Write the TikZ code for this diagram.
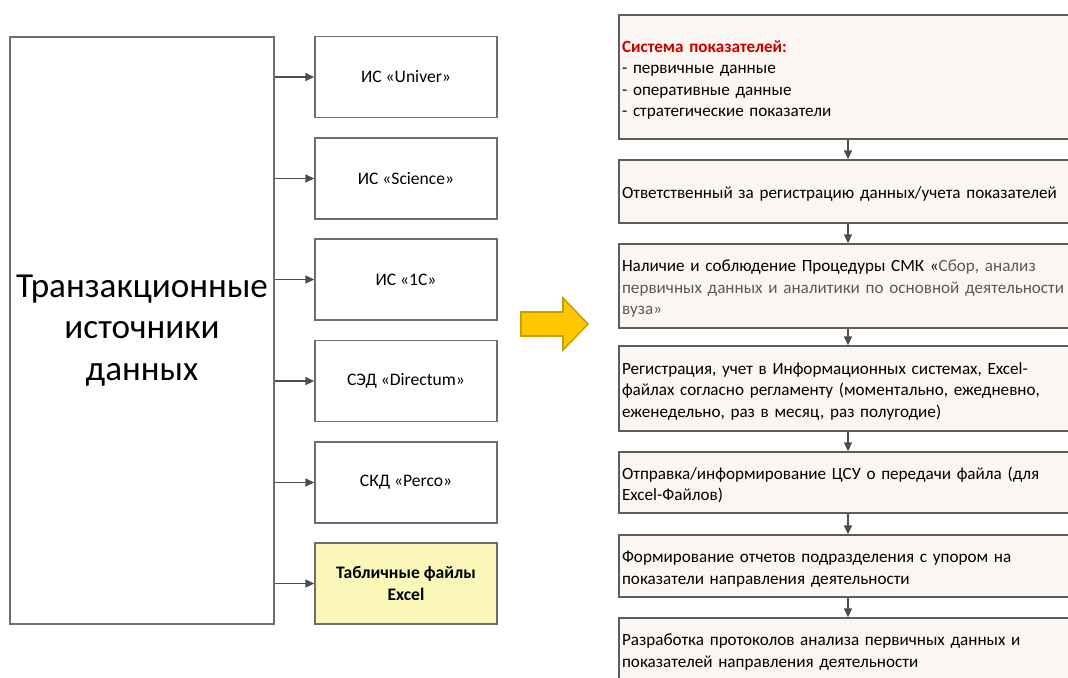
\documentclass[tikz,border=0pt]{standalone}
\usepackage{fontspec}
\setmainfont{Carlito}
\usetikzlibrary{arrows.meta}

\definecolor{boxline}{RGB}{110,110,110}
\definecolor{stepfill}{RGB}{251,246,241}
\definecolor{excelfill}{RGB}{250,247,185}
\definecolor{arrowfill}{RGB}{255,200,0}
\definecolor{arrowline}{RGB}{200,160,0}
\definecolor{titlered}{RGB}{200,0,0}
\definecolor{quotegray}{RGB}{90,90,90}

\tikzset{
  srcbox/.style={draw=boxline, line width=0.9pt, fill=white, minimum width=3.64cm, minimum height=1.62cm, font=\fontsize{10}{12}\selectfont},
  stepbox/.style={draw=boxline!85!black, line width=0.9pt, fill=stepfill, minimum width=9.42cm, text width=9.3cm, align=left, inner xsep=0.06cm, font=\fontsize{9.75}{12.2}\selectfont, execute at begin node={\rule{0pt}{10pt}}},
  link/.style={draw=boxline!70!black, line width=0.8pt, -{Triangle[length=5pt,width=4.5pt]}}
}

\begin{document}
\begin{tikzpicture}[x=0.02cm, y=-0.02cm]
    \useasboundingbox (0,0) rectangle (1068,677);
    \clip (0,0) rectangle (1068,677);

    % Sources of data
    \node[draw=boxline, line width=0.9pt, minimum width=5.28cm, minimum height=11.74cm, align=center, font=\fontsize{20}{23.5}\selectfont] (src) at (142,330.5) {Транзакционные\\источники\\данных};

    \node[srcbox] (s1) at (406,77)    {ИС «Univer»};
    \node[srcbox] (s2) at (406,178.5) {ИС «Science»};
    \node[srcbox] (s3) at (406,279.5) {ИС «1С»};
    \node[srcbox] (s4) at (406,381)   {СЭД «Directum»};
    \node[srcbox] (s5) at (406,482.5) {СКД «Perco»};
    \node[srcbox, fill=excelfill, align=center, font=\fontsize{10}{12}\selectfont\bfseries] (s6) at (406,583.5) {Табличные файлы\\Excel};

    \foreach \i in {1,...,6}
        \draw[link] (src.east |- s\i.west) -- (s\i.west);

    % Big yellow arrow
    \draw[draw=arrowline, line width=0.9pt, fill=arrowfill] (521,312) -- (563,312) -- (563,298) -- (588,324) -- (563,350) -- (563,336) -- (521,336) -- cycle;

    % Steps of the procedure
    \node[stepbox, minimum height=2.48cm] (r1) at (854.5,77) {{\color{titlered}\bfseries Система показателей:}\\- первичные данные\\- оперативные данные\\- стратегические показатели};
    \node[stepbox, minimum height=1.26cm] (r2) at (854.5,191.5) {Ответственный за регистрацию данных/учета показателей};
    \node[stepbox, minimum height=1.68cm] (r3) at (854.5,286) {Наличие и соблюдение Процедуры СМК «{\color{quotegray}Сбор, анализ\\первичных данных и аналитики по основной деятельности\\вуза»}};
    \node[stepbox, minimum height=1.70cm] (r4) at (854.5,388.5) {Регистрация, учет в Информационных системах, Excel-\\файлах согласно регламенту (моментально, ежедневно,\\еженедельно, раз в месяц, раз полугодие)};
    \node[stepbox, minimum height=1.22cm] (r5) at (854.5,482.5) {Отправка/информирование ЦСУ о передачи файла (для\\Excel-Файлов)};
    \node[stepbox, minimum height=1.24cm] (r6) at (854.5,566) {Формирование отчетов подразделения с упором на\\показатели направления деятельности};
    \node[stepbox, minimum height=1.24cm] (r7) at (854.5,649) {Разработка протоколов анализа первичных данных и\\показателей направления деятельности};

    \coordinate (ax) at (848,0);
    \foreach \a/\b in {r1/r2, r2/r3, r3/r4, r4/r5, r5/r6, r6/r7}
        \draw[link] (\a.south -| ax) -- (\b.north -| ax);
\end{tikzpicture}
\end{document}
